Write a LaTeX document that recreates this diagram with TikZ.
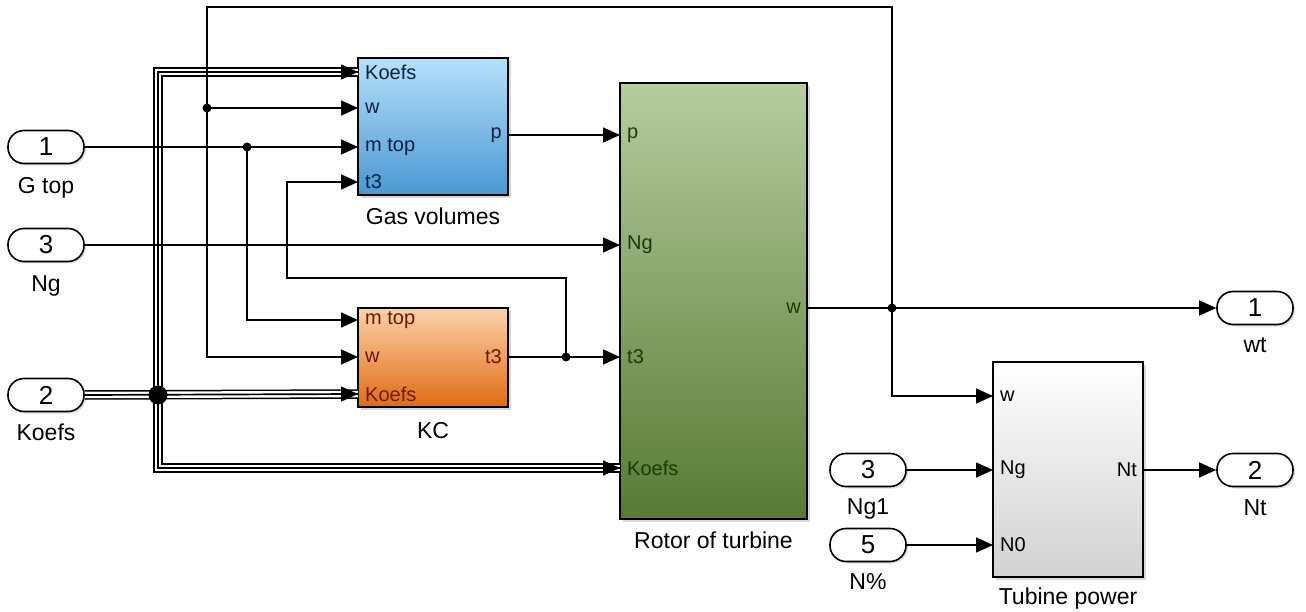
\documentclass[tikz,border=0pt]{standalone}
\usepackage{fontspec}
\setmainfont{Liberation Sans}
\usetikzlibrary{arrows.meta,positioning,calc,shadows}

\definecolor{gasT}{HTML}{B6E0FA}
\definecolor{gasB}{HTML}{4A98D2}
\definecolor{gasTxt}{HTML}{0B1F4A}
\definecolor{kcT}{HTML}{FCD2AA}
\definecolor{kcB}{HTML}{E06C12}
\definecolor{kcTxt}{HTML}{6E1600}
\definecolor{rotT}{HTML}{B6CC9E}
\definecolor{rotB}{HTML}{587A34}
\definecolor{rotTxt}{HTML}{1A3A05}

\begin{document}
\begin{tikzpicture}[
      x=1pt, y=-1pt, >={Triangle[length=17pt,width=15pt]},
      sig/.style={line width=1.5pt},
      bus/.style={line width=9.5pt, postaction={draw, white, line width=6.5pt},
                  postaction={draw, black, line width=1.7pt}},
      blk/.style={draw, line width=1.8pt, inner sep=0pt,
                  drop shadow={shadow xshift=3pt, shadow yshift=-3pt, opacity=0.3}},
      ioport/.style={draw, line width=1.6pt, rounded corners=16pt, fill=white,
                   minimum width=76pt, minimum height=33pt, inner sep=0pt,
                   font=\fontsize{26}{26}\selectfont,
                   drop shadow={shadow xshift=2pt, shadow yshift=-2pt, opacity=0.25}},
      lbl/.style={font=\fontsize{23}{23}\selectfont, inner sep=1pt},
      inlab/.style={font=\fontsize{20}{20}\selectfont, anchor=west, inner xsep=7pt, inner ysep=0pt},
      outlab/.style={font=\fontsize{20}{20}\selectfont, anchor=east, inner xsep=6pt, inner ysep=0pt},
      jdot/.style={circle, fill, inner sep=0pt, minimum size=9pt},
      busdot/.style={circle, fill, inner sep=0pt, minimum size=19pt}
    ]
    \useasboundingbox (0,0) rectangle (1306,612);

    % blocks
    \node[blk, top color=gasT, bottom color=gasB, minimum width=150pt, minimum height=137pt] (gas) at (433,126.5) {};
    \node[blk, top color=kcT, bottom color=kcB, minimum width=150pt, minimum height=99pt] (kc) at (433,357.5) {};
    \node[blk, top color=rotT, bottom color=rotB, minimum width=187pt, minimum height=436pt] (rot) at (713.5,301) {};
    \node[blk, top color=white, bottom color=black!18, minimum width=150pt, minimum height=215pt] (tp) at (1068,469.5) {};

    \node[lbl, below=11pt of gas] {Gas volumes};
    \node[lbl, below=13pt of kc]  {KC};
    \node[lbl, below=11pt of rot] {Rotor of turbine};
    \node[lbl, below=9pt of tp]   {Tubine power};

    % block ports
    \node[inlab, gasTxt] (gask) at (358,72)  {Koefs};
    \node[inlab, gasTxt] (gasw) at (358,108) {w};
    \node[inlab, gasTxt] (gasm) at (358,147) {m top};
    \node[inlab, gasTxt] (gast) at (358,182) {t3};
    \node[outlab, gasTxt] (gasp) at (508,135) {p};

    \node[inlab, kcTxt] (kcm) at (358,320) {m top};
    \node[inlab, kcTxt] (kcw) at (358,357) {w};
    \node[inlab, kcTxt] (kck) at (358,394) {Koefs};
    \node[outlab, kcTxt] (kct) at (508,357) {t3};

    \node[inlab, rotTxt] (rotp)  at (620,135) {p};
    \node[inlab, rotTxt] (rotng) at (620,245) {Ng};
    \node[inlab, rotTxt] (rott)  at (620,357) {t3};
    \node[inlab, rotTxt] (rotk)  at (620,468) {Koefs};
    \node[outlab, rotTxt] (rotw) at (807,308) {w};

    \node[inlab] (tpw)  at (993,396) {w};
    \node[inlab] (tpng) at (993,470) {Ng};
    \node[inlab] (tpn0) at (993,545) {N0};
    \node[outlab] (tpnt) at (1143,470) {Nt};

    % in- and outports
    \node[ioport] (gtop)  at (46,147)  {1};
    \node[ioport] (ng)    at (46,245)  {3};
    \node[ioport] (koefs) at (46,395)  {2};
    \node[ioport] (ng1)   at (868,470) {3};
    \node[ioport] (npct)  at (868,545) {5};
    \node[ioport] (wt)    at (1255,308) {1};
    \node[ioport] (nt)    at (1255,470) {2};

    \node[lbl, below=12pt of gtop]  {G top};
    \node[lbl, below=12pt of ng]    {Ng};
    \node[lbl, below=10pt of koefs] {Koefs};
    \node[lbl, below=10pt of ng1]   {Ng1};
    \node[lbl, below=10pt of npct]  {N\%};
    \node[lbl, below=11pt of wt]    {wt};
    \node[lbl, below=11pt of nt]    {Nt};

    % bus lines
    \coordinate (bt) at (158,72);
    \coordinate (bb) at (158,468);
    \draw[bus] (gask.west) -- (bt) -- (bb) -- (rotk.west);
    \draw[bus] (koefs.east) -- (kck.west);
    \node[busdot] (jb) at (158,395) {};
    \draw[sig,->] ([xshift=-12pt]gask.west) -- (gask.west);
    \draw[sig,->] ([xshift=-12pt]kck.west) -- (kck.west);
    \draw[sig,->] ([xshift=-12pt]rotk.west) -- (rotk.west);

    % junctions
    \node[jdot] (jm)  at (247,147) {};
    \node[jdot] (jw2) at (207,108) {};
    \node[jdot] (jt)  at (566,357) {};
    \node[jdot] (jw1) at (892,308) {};
    \coordinate (wtop) at (892,7);
    \coordinate (t3r) at (287,278);

    % signals
    \draw[sig,->] (gtop.east) -- (gasm.west);
    \draw[sig,->] (jm.center) |- (kcm.west);
    \draw[sig,->] (ng.east) -- (rotng.west);
    \draw[sig,->] (gasp.east) -- (rotp.west);
    \draw[sig,->] (kct.east) -- (rott.west);
    \draw[sig,->] (jt.center) |- (t3r) |- (gast.west);
    \draw[sig,->] (rotw.east) -- (wt.west);
    \draw[sig,->] (jw1.center) -- (wtop) -| (jw2.center) |- (kcw.west);
    \draw[sig,->] (jw2.center) -- (gasw.west);
    \draw[sig,->] (jw1.center) |- (tpw.west);
    \draw[sig,->] (ng1.east) -- (tpng.west);
    \draw[sig,->] (npct.east) -- (tpn0.west);
    \draw[sig,->] (tpnt.east) -- (nt.west);
  \end{tikzpicture}
\end{document}
